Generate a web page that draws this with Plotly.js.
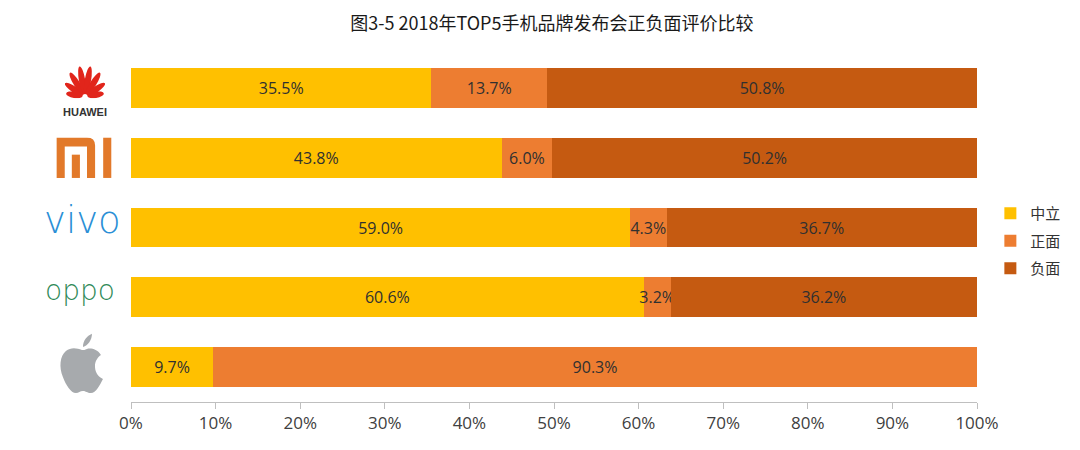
<!DOCTYPE html>
<html>
<head>
<meta charset="utf-8">
<script src="https://cdn.plot.ly/plotly-3.0.1.min.js"></script>
<style>
  html, body { margin: 0; padding: 0; background: #fff; }
  #graphique { width: 1080px; height: 450px; }
</style>
</head>
<body>
<div id="graphique"></div>
<script>
// Données (pourcentages)
let marques = ["HUAWEI", "小米", "vivo", "OPPO", "Apple"];
let neutre = [35.5, 43.8, 59.0, 60.6, 9.7];
let positif = [13.7, 6.0, 4.3, 3.2, 90.3];
let negatif = [50.8, 50.2, 36.7, 36.2, 0];
let noms_series = ["中立", "正面", "负面"];
let couleurs = ["#FFC000", "#ED7D31", "#C55A11"];
let graduations = [0, 10, 20, 30, 40, 50, 60, 70, 80, 90, 100];

let police = "Open Sans, Noto Sans CJK SC, sans-serif";

// On cache les étiquettes des valeurs nulles
function etiquettes(valeurs) {
    return valeurs.map(v => v > 0 ? v.toFixed(1) + "%" : "");
}

let donnee = [neutre, positif, negatif].map(function (valeurs, i) {
    return {
        type: "bar",
        orientation: "h",
        y: marques,
        x: valeurs,
        name: noms_series[i],
        legendgroup: "g" + i,
        marker: {color: couleurs[i], line: {width: 0}},
        text: etiquettes(valeurs),
        textposition: "inside",
        insidetextanchor: "middle",
        constraintext: "none",
        textangle: 0,
        textfont: {family: police, size: 16, color: "#303030"},
        hoverinfo: "skip"
    };
});

// Logos dessinés en SVG (pas de réseau)
function svg_uri(contenu, vb) {
    let s = '<svg xmlns="http://www.w3.org/2000/svg" viewBox="' + vb + '">' + contenu + '</svg>';
    return "data:image/svg+xml;base64," + btoa(s);
}

let petales = "";
let angles = [-80, -56, -32, -10, 10, 32, 56, 80];
let longueurs = [10, 13, 15.5, 17, 17, 15.5, 13, 10];
for (let k = 0; k < angles.length; k++) {
    let l = longueurs[k];
    petales += '<ellipse cx="30" cy="' + (40 - l - 3) + '" rx="3.8" ry="' + l + '" fill="#E1251B" transform="rotate(' + angles[k] + ' 30 40)"/>';
}
let logo_huawei = svg_uri(petales, "0 0 60 42");

let logo_mi = svg_uri(
    '<path d="M0 0 H30 Q38 0 38 8 V40 H30 V9 H8 V40 H0 Z" fill="#E2792A"/>' +
    '<rect x="15" y="17" width="8" height="23" fill="#E2792A"/>' +
    '<rect x="46" y="0" width="8" height="40" fill="#E2792A"/>', "0 0 56 40");

let logo_apple = svg_uri(
    '<path d="M25 18 C20 16 14 15 9 19 C3 24 2 35 6 45 C9 53 14 61 19 61 C22 61 23 59 26 59 C29 59 30 61 34 61 C39 61 43 53 46 47 C40 44 38 39 38 34 C38 29 41 25 44 23 C40 17 34 16 30 17 C28 18 27 18 25 18 Z" fill="#A7AAAD"/>' +
    '<path d="M26 15 C26 9 30 4 35 2 C35 8 31 14 26 15 Z" fill="#A7AAAD"/>', "0 0 50 62");

let apparence = {
    width: 1080,
    height: 450,
    margin: {l: 131, r: 103, t: 53, b: 48, autoexpand: false},
    paper_bgcolor: "#ffffff",
    plot_bgcolor: "#ffffff",
    barmode: "stack",
    bargap: 0.43,
    showlegend: true,
    font: {family: police, color: "#404040"},
    title: {
        text: "图3-5 2018年TOP5手机品牌发布会正负面评价比较",
        font: {family: "Noto Sans CJK SC, sans-serif", size: 18, color: "#1a1a1a"},
        xref: "container", x: 0.511, xanchor: "center",
        yref: "container", y: 0.947, yanchor: "middle"
    },
    xaxis: {
        range: [0, 100],
        tickvals: graduations,
        ticktext: graduations.map(g => g + "%"),
        showgrid: false,
        zeroline: false,
        showline: true,
        linecolor: "#BFBFBF",
        linewidth: 1,
        ticks: "outside",
        ticklen: 6,
        tickcolor: "#BFBFBF",
        tickfont: {family: police, size: 17, color: "#404040"}
    },
    yaxis: {
        autorange: "reversed",
        showticklabels: false,
        showgrid: false,
        zeroline: false,
        showline: false,
        ticks: ""
    },
    legend: {
        xref: "container", x: 0.917, xanchor: "left",
        yref: "container", y: 0.562, yanchor: "top",
        font: {family: "Noto Sans CJK SC, sans-serif", size: 15, color: "#333333"},
        tracegroupgap: 5,
        itemclick: false
    },
    images: [
        {source: logo_huawei, xref: "paper", yref: "y", x: -0.0544, y: -0.1, sizex: 0.068, sizey: 0.5,
         xanchor: "center", yanchor: "middle", sizing: "contain", layer: "above"},
        {source: logo_mi, xref: "paper", yref: "y", x: -0.0544, y: 1.0, sizex: 0.071, sizey: 0.58,
         xanchor: "center", yanchor: "middle", sizing: "contain", layer: "above"},
        {source: logo_apple, xref: "paper", yref: "y", x: -0.058, y: 3.94, sizex: 0.062, sizey: 0.89,
         xanchor: "center", yanchor: "middle", sizing: "contain", layer: "above"}
    ],
    annotations: [
        {text: "<b>HUAWEI</b>", xref: "paper", yref: "y", x: -0.0544, y: 0.34, showarrow: false,
         xanchor: "center", yanchor: "middle",
         font: {family: "Liberation Sans, sans-serif", size: 11, color: "#333333"}},
        {text: "vivo", xref: "paper", yref: "y", x: -0.0575, y: 1.9, showarrow: false,
         xanchor: "center", yanchor: "middle",
         font: {family: "DejaVu Sans, sans-serif", size: 37, weight: 200, color: "#2A8FD6"}},
        {text: "oppo", xref: "paper", yref: "y", x: -0.06, y: 2.9, showarrow: false,
         xanchor: "center", yanchor: "middle",
         font: {family: "DejaVu Sans, sans-serif", size: 28, weight: 200, color: "#2F8A58"}}
    ]
};

Plotly.newPlot("graphique", donnee, apparence, {displayModeBar: false, staticPlot: true});
</script>
</body>
</html>
